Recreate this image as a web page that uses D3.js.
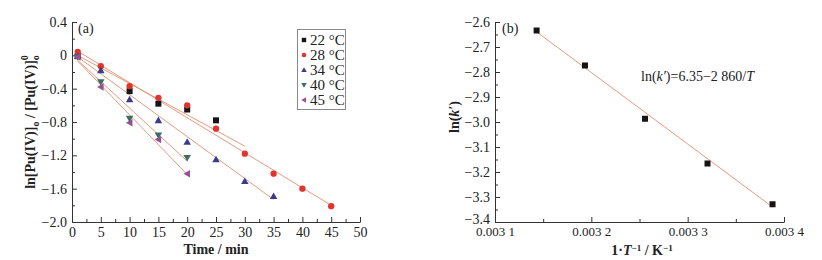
<!DOCTYPE html>
<html>
<head>
<meta charset="utf-8">
<script src="https://cdn.jsdelivr.net/npm/d3@7"></script>
<style>
  html, body { margin: 0; padding: 0; background: #fff; }
  svg { display: block; }
  text { font-family: "Times New Roman", "Liberation Serif", Times, serif; fill: #222; }
</style>
</head>
<body>
<svg id="chart" width="822" height="260"></svg>
<script>
// ---------- Data: panel (a) ----------
const seriesNames = ["22 °C", "28 °C", "34 °C", "40 °C", "45 °C"];
const times22 = [1, 10, 15, 20, 25];
const vals22  = [-0.01, -0.43, -0.58, -0.65, -0.78];
const times28 = [1, 5, 10, 15, 20, 25, 30, 35, 40, 45];
const vals28  = [0.04, -0.13, -0.37, -0.51, -0.60, -0.88, -1.18, -1.42, -1.60, -1.81];
const times34 = [1, 5, 10, 15, 20, 25, 30, 35];
const vals34  = [-0.01, -0.18, -0.53, -0.78, -1.04, -1.25, -1.51, -1.69];
const times40 = [1, 5, 10, 15, 20];
const vals40  = [-0.02, -0.32, -0.76, -0.96, -1.23];
const times45 = [1, 5, 10, 15, 20];
const vals45  = [-0.02, -0.38, -0.81, -1.01, -1.42];
// fitted lines: [t start, value start, t end, value end]
const fit22 = [1, 0.00, 30, -1.09];
const fit28 = [1, 0.05, 45, -1.80];
const fit34 = [1, -0.02, 35, -1.73];
const fit40 = [1, -0.06, 20, -1.27];
const fit45 = [1, -0.07, 20, -1.43];
const xTicksA = [0, 5, 10, 15, 20, 25, 30, 35, 40, 45, 50];
const yTicksA = [0.4, 0, -0.4, -0.8, -1.2, -1.6, -2.0];

// ---------- Data: panel (b) ----------
const invT = [0.0031432, 0.0031934, 0.0032557, 0.0033206, 0.0033881];
const lnk  = [-2.634, -2.774, -2.987, -3.166, -3.329];
const fitIntercept = 6.35, fitSlope = -2860;
const xTicksB = [0.0031, 0.0032, 0.0033, 0.0034];
const xTickLabelsB = ["0.003 1", "0.003 2", "0.003 3", "0.003 4"];
const yTicksB = [-2.6, -2.7, -2.8, -2.9, -3.0, -3.1, -3.2, -3.3, -3.4];

// ---------- Drawing ----------
const FONT = '"Times New Roman", "Liberation Serif", Times, serif';
const svg = d3.select("#chart");
svg.append("rect").attr("width", 822).attr("height", 260).attr("fill", "#fff");

const colors = ["#151515", "#e0342e", "#3b3b8c", "#3e6e60", "#9a4f95"];
const fitColor = "#e2906f";
const minus = s => s.replace("-", "\u2212");

function styleAxis(g, size) {
  g.attr("font-family", FONT);
  g.selectAll("path.domain").attr("stroke", "#333").attr("stroke-width", 1);
  g.selectAll(".tick line").attr("stroke", "#333").attr("stroke-width", 1);
  g.selectAll(".tick text").attr("font-size", size || 14).attr("fill", "#333");
}

// ===== Panel (a) =====
const xA = d3.scaleLinear().domain([0, 50]).range([72, 360]);
const yA = d3.scaleLinear().domain([-2.0, 0.4]).range([222, 22]);

svg.append("g").attr("transform", `translate(0,${yA(-2.0)})`)
  .call(d3.axisBottom(xA).tickValues(d3.range(2.5, 50, 5)).tickSize(-3).tickFormat(""))
  .call(g => g.select(".domain").remove()).call(styleAxis);
svg.append("g").attr("transform", `translate(${xA(0)},0)`)
  .call(d3.axisLeft(yA).tickValues(d3.range(-1.8, 0.4, 0.4)).tickSize(-3).tickFormat(""))
  .call(g => g.select(".domain").remove()).call(styleAxis);

svg.append("g").attr("transform", `translate(0,${yA(-2.0)})`)
  .call(d3.axisBottom(xA).tickValues(xTicksA).tickSize(-5).tickSizeOuter(0).tickPadding(5).tickFormat(d3.format("d")))
  .call(styleAxis);
svg.append("g").attr("transform", `translate(${xA(0)},0)`)
  .call(d3.axisLeft(yA).tickValues(yTicksA).tickSize(-5).tickSizeOuter(0).tickPadding(5)
    .tickFormat(d => d === 0 ? "0" : minus(d3.format(".1f")(d))))
  .call(styleAxis);

const series = [
  {t: times22, v: vals22, fit: fit22, shape: "square"},
  {t: times28, v: vals28, fit: fit28, shape: "circle"},
  {t: times34, v: vals34, fit: fit34, shape: "up"},
  {t: times40, v: vals40, fit: fit40, shape: "down"},
  {t: times45, v: vals45, fit: fit45, shape: "left"}
];

const gFit = svg.append("g");
series.forEach(s => {
  gFit.append("line")
    .attr("x1", xA(s.fit[0])).attr("y1", yA(s.fit[1]))
    .attr("x2", xA(s.fit[2])).attr("y2", yA(s.fit[3]))
    .attr("stroke", fitColor).attr("stroke-width", 0.9);
});

function marker(g, shape, cx, cy, r, color) {
  if (shape === "square") {
    g.append("rect").attr("x", cx - r).attr("y", cy - r).attr("width", 2 * r).attr("height", 2 * r).attr("fill", color);
  } else if (shape === "circle") {
    g.append("circle").attr("cx", cx).attr("cy", cy).attr("r", r * 1.05).attr("fill", color);
  } else {
    const a = r * 1.25;
    let pts;
    if (shape === "up") pts = [[cx, cy - a], [cx + a, cy + a * 0.75], [cx - a, cy + a * 0.75]];
    else if (shape === "down") pts = [[cx, cy + a], [cx + a, cy - a * 0.75], [cx - a, cy - a * 0.75]];
    else pts = [[cx - a, cy], [cx + a * 0.75, cy - a], [cx + a * 0.75, cy + a]];
    g.append("polygon").attr("points", pts.map(p => p.join(",")).join(" ")).attr("fill", color);
  }
}

const gPts = svg.append("g");
series.forEach((s, i) => {
  s.t.forEach((t, j) => marker(gPts, s.shape, xA(t), yA(s.v[j]), 3, colors[i]));
});

const lg = svg.append("g");
lg.append("rect").attr("x", 297.5).attr("y", 29.5).attr("width", 48).attr("height", 80)
  .attr("fill", "#fff").attr("stroke", "#888").attr("stroke-width", 1);
seriesNames.forEach((name, i) => {
  const cy = 40 + i * 15;
  marker(lg, series[i].shape, 304, cy, 2.2, colors[i]);
  lg.append("text").attr("x", 310).attr("y", cy + 5).attr("font-size", 15).text(name);
});

svg.append("text").attr("x", 78).attr("y", 33).attr("font-size", 14).text("(a)");

svg.append("text").attr("x", xA(25)).attr("y", 254).attr("text-anchor", "middle")
  .attr("font-size", 14).attr("font-weight", "bold").text("Time / min");

const yl = svg.append("text").attr("transform", `translate(35,${yA(-0.8)}) rotate(-90)`)
  .attr("text-anchor", "middle").attr("font-size", 14).attr("font-weight", "bold");
yl.append("tspan").text("ln[Pu(IV)]");
yl.append("tspan").attr("font-size", 10).attr("dy", 4).text("o");
yl.append("tspan").attr("dy", -4).text(" / [Pu(IV)]");
yl.append("tspan").attr("font-size", 10).attr("dy", 4).text("o");
yl.append("tspan").attr("font-size", 10).attr("dx", -5).attr("dy", -11).text("0");

// ===== Panel (b) =====
const xB = d3.scaleLinear().domain([0.0031, 0.0034]).range([495, 784]);
const yB = d3.scaleLinear().domain([-3.4, -2.6]).range([222, 22]);

svg.append("g").attr("transform", `translate(0,${yB(-3.4)})`)
  .call(d3.axisBottom(xB).tickValues([0.00315, 0.00325, 0.00335]).tickSize(-3).tickFormat(""))
  .call(g => g.select(".domain").remove()).call(styleAxis);
svg.append("g").attr("transform", `translate(${xB(0.0031)},0)`)
  .call(d3.axisLeft(yB).tickValues(d3.range(-3.35, -2.6, 0.1)).tickSize(-3).tickFormat(""))
  .call(g => g.select(".domain").remove()).call(styleAxis);

svg.append("g").attr("transform", `translate(0,${yB(-3.4)})`)
  .call(d3.axisBottom(xB).tickValues(xTicksB).tickSize(-5).tickSizeOuter(0).tickPadding(5)
    .tickFormat((d, i) => xTickLabelsB[i]))
  .call(g => styleAxis(g, 13));
svg.append("g").attr("transform", `translate(${xB(0.0031)},0)`)
  .call(d3.axisLeft(yB).tickValues(yTicksB).tickSize(-5).tickSizeOuter(0).tickPadding(5)
    .tickFormat(d => minus(d3.format(".1f")(d))))
  .call(styleAxis)
  .call(g => g.selectAll(".tick text").filter(d => d === -3.4).attr("dy", "0.1em"));

const xMin = d3.min(invT), xMax = d3.max(invT);
svg.append("line")
  .attr("x1", xB(xMin)).attr("y1", yB(fitIntercept + fitSlope * xMin))
  .attr("x2", xB(xMax)).attr("y2", yB(fitIntercept + fitSlope * xMax))
  .attr("stroke", fitColor).attr("stroke-width", 0.9);

invT.forEach((x, i) => marker(svg, "square", xB(x), yB(lnk[i]), 3, "#151515"));

svg.append("text").attr("x", 502).attr("y", 33).attr("font-size", 14).text("(b)");

const eq = svg.append("text").attr("x", 641).attr("y", 81).attr("font-size", 14);
eq.append("tspan").text("ln(");
eq.append("tspan").attr("font-style", "italic").text("k′");
eq.append("tspan").text(")=6.35\u22122 860/");
eq.append("tspan").attr("font-style", "italic").text("T");

const xlb = svg.append("text").attr("x", 642).attr("y", 255).attr("text-anchor", "middle")
  .attr("font-size", 14).attr("font-weight", "bold");
xlb.append("tspan").text("1·");
xlb.append("tspan").attr("font-style", "italic").text("T");
xlb.append("tspan").attr("font-size", 9).attr("dy", -4).text("−1");
xlb.append("tspan").attr("dy", 4).text(" / K");
xlb.append("tspan").attr("font-size", 9).attr("dy", -4).text("−1");

const ylb = svg.append("text").attr("transform", `translate(459,${yB(-2.98)}) rotate(-90)`)
  .attr("text-anchor", "middle").attr("font-size", 14).attr("font-weight", "bold");
ylb.append("tspan").text("ln(");
ylb.append("tspan").attr("font-style", "italic").text("k′");
ylb.append("tspan").text(")");
</script>
</body>
</html>
